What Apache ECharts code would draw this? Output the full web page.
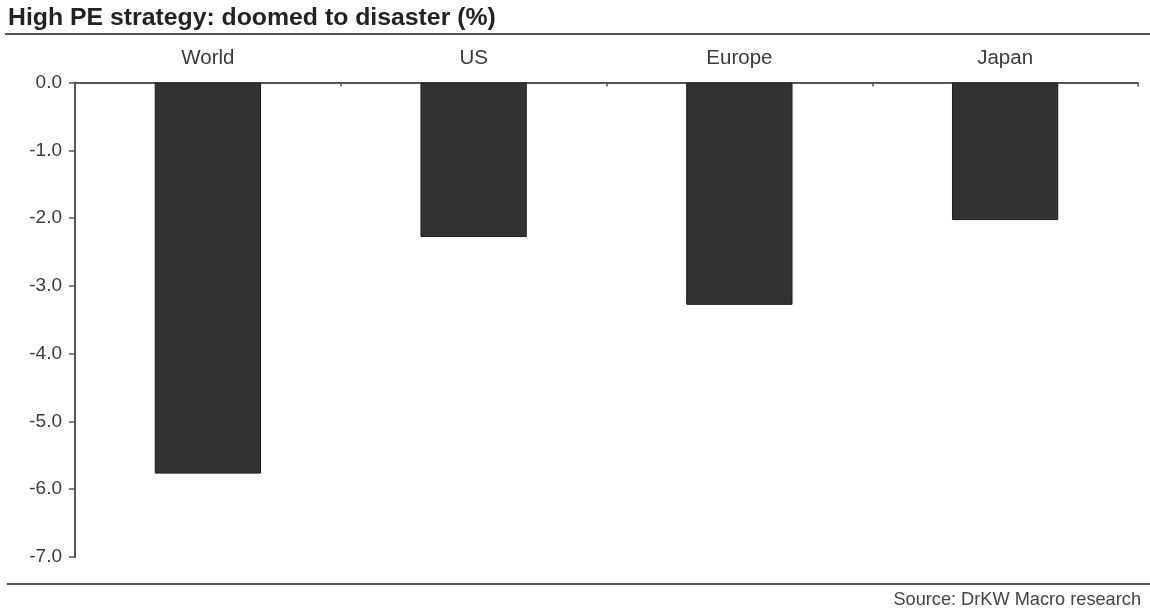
<!DOCTYPE html>
<html>
<head>
<meta charset="utf-8">
<script src="https://cdn.jsdelivr.net/npm/echarts@6/dist/echarts.min.js"></script>
<style>
  html, body { margin: 0; padding: 0; background: #ffffff; }
  #chart { width: 1150px; height: 610px; }
</style>
</head>
<body>
<div id="chart"></div>
<script>
// Returns of the high-PE strategy by region (%)
const regions = ['World', 'US', 'Europe', 'Japan'];
const returns = [-5.77, -2.28, -3.28, -2.03];
const yMin = -7;
const yMax = 0;
const yStep = 1;

const titleText = 'High PE strategy: doomed to disaster (%)';
const sourceText = 'Source: DrKW Macro research';

const font = '"Liberation Sans", Arial, Helvetica, sans-serif';
const chart = echarts.init(document.getElementById('chart'), null, { renderer: 'canvas' });

chart.setOption({
  backgroundColor: '#ffffff',
  animation: false,
  grid: { left: 75, right: 12, top: 82.5, bottom: 53, containLabel: false },
  graphic: [
    {
      type: 'text', left: 8, top: 6,
      style: { text: titleText, font: 'bold 24.8px ' + font, fill: '#222222' }
    },
    {
      type: 'line', shape: { x1: 5, y1: 34, x2: 1150, y2: 34 },
      style: { stroke: '#555555', lineWidth: 2 }
    },
    {
      type: 'line', shape: { x1: 7, y1: 584, x2: 1150, y2: 584 },
      style: { stroke: '#555555', lineWidth: 2 }
    },
    {
      type: 'text', right: 9, top: 591,
      style: { text: sourceText, font: '18.2px ' + font, fill: '#444444' }
    }
  ],
  xAxis: {
    type: 'category',
    data: regions,
    position: 'top',
    axisLine: { show: true, onZero: true, lineStyle: { color: '#555555', width: 2 } },
    axisTick: { show: true, inside: true, length: 4, lineStyle: { color: '#555555', width: 1.5 } },
    axisLabel: { margin: 14, fontFamily: font, fontSize: 20.5, color: '#3a3a3a' },
    splitLine: { show: false }
  },
  yAxis: {
    type: 'value',
    min: yMin,
    max: yMax,
    interval: yStep,
    axisLine: { show: true, lineStyle: { color: '#555555', width: 2 } },
    axisTick: { show: true, length: 6, lineStyle: { color: '#555555', width: 1.5 } },
    axisLabel: {
      margin: 13,
      fontFamily: font, fontSize: 19, color: '#3a3a3a',
      formatter: v => v.toFixed(1)
    },
    splitLine: { show: false }
  },
  series: [{
    type: 'bar',
    data: returns,
    barWidth: '40%',
    itemStyle: { color: '#333333', borderColor: '#1c1c1c', borderWidth: 1 }
  }]
});
</script>
</body>
</html>
